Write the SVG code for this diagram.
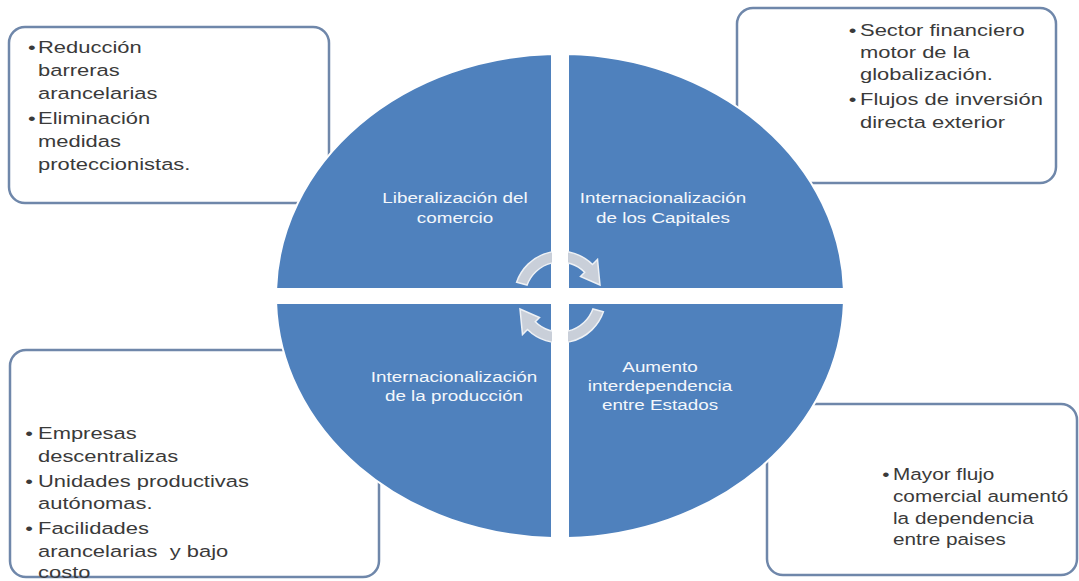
<svg xmlns="http://www.w3.org/2000/svg" width="1079" height="581" viewBox="0 0 1079 581">
<style>
.box{fill:#ffffff;stroke:#6f87aa;stroke-width:2.5}
.quad{fill:#4f81bd;stroke:#ffffff;stroke-width:2}
.bt{font-family:"Liberation Sans",Arial,sans-serif;font-size:16.5px;fill:#3a3a3a}
.ql{font-family:"Liberation Sans",Arial,sans-serif;font-size:14.5px;fill:#f4f7fb;text-anchor:middle}
.arr{fill:#c9cfd9;stroke:#eef1f5;stroke-width:1.5}
</style>
<defs>
<mask id="gapmask">
<rect x="0" y="0" width="1079" height="581" fill="#fff"/>
<rect x="552" y="0" width="16" height="581" fill="#000"/>
<rect x="0" y="289" width="1079" height="14" fill="#000"/>
</mask>
</defs>
<rect x="0" y="0" width="1079" height="581" fill="#ffffff"/>

<g id="box-tl">
<rect class="box" x="9" y="27" width="320" height="176" rx="16"/>
<text class="bt" transform="translate(38 0) scale(1.33 1)">
<tspan x="-7.5" y="53">•</tspan><tspan x="0" y="53">Reducción</tspan>
<tspan x="0" y="76">barreras</tspan>
<tspan x="0" y="99">arancelarias</tspan>
<tspan x="-7.5" y="124">•</tspan><tspan x="0" y="124">Eliminación</tspan>
<tspan x="0" y="147">medidas</tspan>
<tspan x="0" y="170">proteccionistas.</tspan>
</text>
</g>

<g id="box-tr">
<rect class="box" x="737" y="8" width="319" height="175" rx="16"/>
<text class="bt" transform="translate(860 0) scale(1.33 1)">
<tspan x="-8.5" y="36">•</tspan><tspan x="0" y="36">Sector financiero</tspan>
<tspan x="0" y="58">motor de la</tspan>
<tspan x="0" y="80">globalización.</tspan>
<tspan x="-8.5" y="105">•</tspan><tspan x="0" y="105">Flujos de inversión</tspan>
<tspan x="0" y="128">directa exterior</tspan>
</text>
</g>

<g id="box-bl">
<rect class="box" x="10" y="350" width="369" height="227" rx="16"/>
<text class="bt" transform="translate(38 0) scale(1.33 1)">
<tspan x="-9.5" y="439">•</tspan><tspan x="0" y="439">Empresas</tspan>
<tspan x="0" y="462">descentralizas</tspan>
<tspan x="-9.5" y="487">•</tspan><tspan x="0" y="487">Unidades productivas</tspan>
<tspan x="0" y="509">autónomas.</tspan>
<tspan x="-9.5" y="534">•</tspan><tspan x="0" y="534">Facilidades</tspan>
<tspan x="0" y="557">arancelarias&#160; y bajo</tspan>
<tspan x="0" y="578">costo</tspan>
</text>
</g>

<g id="box-br">
<rect class="box" x="767" y="404" width="310" height="171" rx="16"/>
<text class="bt" style="font-size:15.6px" transform="translate(893 0) scale(1.33 1)">
<tspan x="-8" y="480">•</tspan><tspan x="0" y="480">Mayor flujo</tspan>
<tspan x="0" y="502">comercial aumentó</tspan>
<tspan x="0" y="524">la dependencia</tspan>
<tspan x="0" y="545">entre paises</tspan>
</text>
</g>

<g id="quad-tl">
<path class="quad" d="M552,289 L276.1,289 A284,242 0 0 1 552,54.1 Z"/>
<text class="ql" transform="translate(455 0) scale(1.3 1)"><tspan x="0" y="203">Liberalización del</tspan><tspan x="0" y="223">comercio</tspan></text>
</g>
<g id="quad-tr">
<path class="quad" d="M568,289 L568,54.1 A284,242 0 0 1 843.9,289 Z"/>
<text class="ql" transform="translate(663 0) scale(1.3 1)"><tspan x="0" y="203">Internacionalización</tspan><tspan x="0" y="223">de los Capitales</tspan></text>
</g>
<g id="quad-br">
<path class="quad" d="M568,303 L843.9,303 A284,242 0 0 1 568,537.9 Z"/>
<text class="ql" transform="translate(660 0) scale(1.3 1)"><tspan x="0" y="372">Aumento</tspan><tspan x="0" y="391">interdependencia</tspan><tspan x="0" y="410">entre Estados</tspan></text>
</g>
<g id="quad-bl">
<path class="quad" d="M552,303 L552,537.9 A284,242 0 0 1 276.1,303 Z"/>
<text class="ql" transform="translate(454 0) scale(1.3 1)"><tspan x="0" y="382">Internacionalización</tspan><tspan x="0" y="401">de la producción</tspan></text>
</g>

<g id="connectors" mask="url(#gapmask)">
<path class="arr" d="M516.6,282.2 A46,46 0 0 1 592.5,264.5 L597.5,259.5 L600.0,285.0 L580.5,276.5 L584.7,272.3 A35,35 0 0 0 527.1,285.0 Z"/>
<path class="arr" transform="rotate(180 560 297)" d="M516.6,282.2 A46,46 0 0 1 592.5,264.5 L597.5,259.5 L600.0,285.0 L580.5,276.5 L584.7,272.3 A35,35 0 0 0 527.1,285.0 Z"/>
</g>
</svg>
